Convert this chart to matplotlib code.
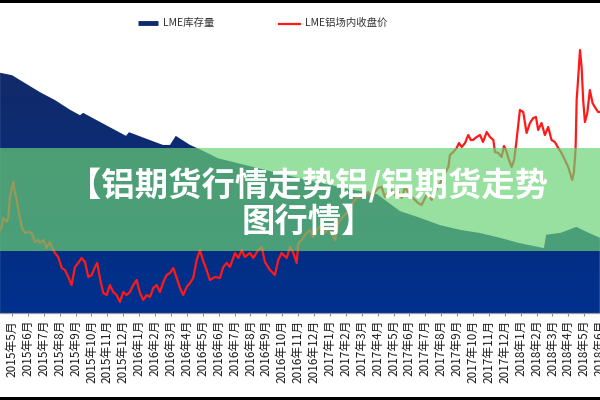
import matplotlib
matplotlib.use("Agg")
import numpy as np
import matplotlib.pyplot as plt
from matplotlib.lines import Line2D
from matplotlib.patches import Rectangle
from matplotlib.colors import LinearSegmentedColormap

plt.rcParams['font.family'] = ['Noto Sans CJK SC', 'DejaVu Sans']

# x positions are in months counted from 2015年1月 (= 0)
stock_month = [3.25, 4.0, 4.5, 5.76, 6.7, 7.65, 8.28, 8.47, 9.53, 11.17, 11.36,
               12.68, 13.5, 13.94, 14.3, 15.2, 15.8, 16.96, 18.97, 22.1, 25.26,
               26.96, 28.4, 29.66, 30.9, 32.2, 33.4, 34.7, 35.95, 37.46, 37.6,
               38.5, 39.5, 40.2, 40.98]
stock_value = [396, 392, 384, 364, 351, 335, 326, 330, 315, 292, 298,
               285, 277, 277, 292, 277, 270, 255, 242, 222, 204,
               196, 168, 157, 145, 137, 132, 124, 115, 107, 129,
               132, 142, 133, 124]

price_month = [3.25, 3.35, 3.45, 3.67, 3.77, 3.87, 4.08, 4.19, 4.30, 4.40, 4.61,
               4.82, 5.03, 5.24, 5.45, 5.65, 5.76, 5.97, 6.18, 6.39, 6.50, 6.70,
               6.91, 7.13, 7.33, 7.54, 7.75, 7.96, 8.17, 8.38, 8.59, 8.80, 9.01,
               9.22, 9.36, 9.53, 9.74, 9.96, 10.16, 10.37, 10.58, 10.79, 11.00,
               11.21, 11.42, 11.63, 11.84, 12.05, 12.26, 12.47, 12.68, 12.89,
               13.10, 13.31, 13.52, 13.73, 13.94, 14.15, 14.36, 14.57, 14.77,
               14.99, 15.20, 15.40, 15.62, 15.82, 16.01, 16.24, 16.45, 16.77,
               17.08, 17.29, 17.51, 17.71, 18.03, 18.24, 18.45, 18.65, 18.97,
               19.18, 19.49, 19.71, 19.91, 20.23, 20.54, 20.75, 20.96, 21.28,
               21.49, 21.70, 21.91, 22.01, 22.22, 22.43, 22.74, 22.95, 23.17,
               23.48, 23.69, 23.90, 24.11, 24.32, 24.53, 24.74, 25.05, 25.26,
               25.47, 25.68, 26.00, 26.20, 26.41, 26.63, 26.83, 27.04, 27.25,
               27.46, 27.67, 27.88, 28.09, 28.30, 28.51, 28.72, 28.91, 29.16,
               29.35, 29.54, 29.77, 29.98, 30.17, 30.40, 30.61, 31.03, 31.24,
               31.45, 31.55, 31.76, 31.97, 32.12, 32.29, 32.50, 32.70, 32.86,
               33.00, 33.23, 33.44, 33.63, 33.86, 34.07, 34.28, 34.38, 34.59,
               34.80, 34.95, 35.07, 35.22, 35.43, 35.59, 35.74, 35.95, 36.16,
               36.37, 36.58, 36.79, 36.96, 37.10, 37.31, 37.52, 37.73, 37.94,
               38.15, 38.36, 38.57, 38.78, 38.99, 39.14, 39.24, 39.35, 39.45,
               39.52, 39.62, 39.73, 39.83, 39.93, 40.04, 40.19, 40.35, 40.52,
               40.66, 40.87, 40.98]
price_value = [1800, 1815, 1860, 1840, 1865, 1965, 2040, 1985, 1950, 1900, 1815,
               1785, 1790, 1785, 1740, 1750, 1735, 1750, 1710, 1740, 1715, 1685,
               1665, 1610, 1600, 1565, 1525, 1615, 1635, 1660, 1640, 1565, 1575,
               1615, 1635, 1560, 1485, 1475, 1525, 1490, 1475, 1440, 1490,
               1475, 1490, 1525, 1550, 1485, 1450, 1475, 1465, 1510,
               1525, 1490, 1540, 1575, 1585, 1610, 1560, 1510, 1475,
               1515, 1535, 1560, 1650, 1700, 1650, 1600, 1550, 1565,
               1560, 1615, 1635, 1615, 1685, 1660, 1700, 1665, 1685,
               1660, 1700, 1715, 1640, 1600, 1575, 1650, 1685, 1660,
               1715, 1685, 1635, 1735, 1750, 1775, 1800, 1765, 1800,
               1825, 1785, 1815, 1785, 1750, 1835, 1860, 1885, 1910,
               1940, 1960, 1965, 1975, 1990, 1965, 1990, 2010, 2015,
               1965, 1985, 2000, 1975, 1990, 1960, 2015, 1990, 1965,
               1950, 1935, 1925, 1960, 1985, 1950, 1990, 2050, 2085,
               2115, 2175, 2190, 2210, 2235, 2215, 2235, 2275, 2250,
               2250, 2265, 2275, 2240, 2290, 2265, 2250, 2190, 2185,
               2165, 2220, 2200, 2160, 2115, 2150, 2250, 2400, 2390,
               2285, 2335, 2360, 2365, 2300, 2335, 2275, 2315, 2250,
               2240, 2210, 2185, 2150, 2115, 2075, 2050, 2090, 2200,
               2450, 2565, 2700, 2615, 2450, 2340, 2385, 2500, 2435,
               2415, 2390, 2390]

tick_months = list(range(3, 42))
tick_labels = [f"{2015 + m // 12}年{m % 12 + 1}月" for m in tick_months]

legend_names = ['LME库存量', 'LME铝场内收盘价']
title_lines = ['【铝期货行情走势铝/铝期货走势', '图行情】']

navy = '#0f2a6e'
red = '#ff1a1a'

fig = plt.figure(figsize=(6, 4), dpi=100)
ax = fig.add_axes([-0.01975, 0.2175, 1.0333, 0.6825])
ax.set_ylim(0, 450)
ax.set_xlim(2.5, 41.5)

# stock area with a vertical gradient fill (dark navy at top, brighter blue below)
area = ax.fill_between(stock_month, stock_value, 0, color='none', lw=0)
grad_cmap = LinearSegmentedColormap.from_list('navy', ['#00308e', '#122a68'])
grad = np.linspace(0, 1, 256).reshape(-1, 1)
img = ax.imshow(grad, cmap=grad_cmap, origin='lower', aspect='auto',
                extent=[2.5, 41.5, 0, 400], interpolation='bilinear')
img.set_clip_path(area.get_paths()[0], transform=ax.transData)
ax.set_xlim(2.5, 41.5)
ax.set_ylim(0, 450)

ax2 = ax.twinx()
ax2.plot(price_month, price_value, color=red, lw=1.6)
ax2.set_ylim(1385, 2750)

for a in (ax, ax2):
    a.set_yticks([])
    for side in ('top', 'left', 'right'):
        a.spines[side].set_visible(False)
    a.spines['bottom'].set_color('#999999')
    a.patch.set_visible(False)

ax.set_xticks(tick_months)
ax.set_xticklabels(tick_labels, rotation=90, fontsize=8.5, color='#1a1a1a')
ax.tick_params(axis='x', length=2.5, width=0.8, color='#888888', pad=2.5)

# legend drawn in figure coordinates
fig.add_artist(Line2D([138 / 600, 158 / 600], [1 - 22.5 / 400] * 2, color=navy,
                      lw=3.5, solid_capstyle='butt'))
fig.text(163 / 600, 1 - 22.5 / 400, legend_names[0], fontsize=7.5, va='center', color='#333333')
fig.add_artist(Line2D([279 / 600, 300 / 600], [1 - 24 / 400] * 2, color=red, lw=1.6))
fig.text(305 / 600, 1 - 22.5 / 400, legend_names[1], fontsize=7.5, va='center', color='#333333')

# green banner overlay with title
fig.add_artist(Rectangle((0, (400 - 251) / 400), 1, 103 / 400, transform=fig.transFigure,
                         facecolor='#6ad274', alpha=0.69, lw=0, zorder=5))
fig.text(308 / 600, 1 - 186 / 400, title_lines[0], fontsize=24, fontweight='heavy',
         color='white', ha='center', va='center', zorder=6)
fig.text(308 / 600, 1 - 222 / 400, title_lines[1], fontsize=24, fontweight='heavy',
         color='white', ha='center', va='center', zorder=6)

# black page edges
fig.add_artist(Rectangle((0, 1 - 2.5 / 400), 1, 2.5 / 400, transform=fig.transFigure,
                         facecolor='black', lw=0, zorder=7))
fig.add_artist(Rectangle((0, 0), 1, 3 / 400, transform=fig.transFigure,
                         facecolor='black', lw=0, zorder=7))

fig.savefig('out.png', dpi=100)
